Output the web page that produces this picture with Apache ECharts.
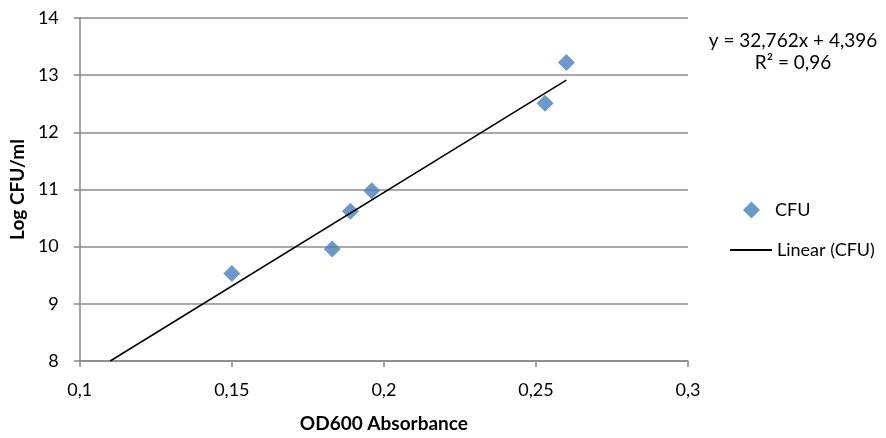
<!DOCTYPE html>
<html>
<head>
<meta charset="utf-8">
<script src="https://cdn.jsdelivr.net/npm/echarts@6/dist/echarts.min.js"></script>
<style>html,body{margin:0;padding:0;background:#fff}#c{width:886px;height:438px}</style>
</head>
<body>
<div id="c"></div>
<script>
var odValues = [0.15, 0.183, 0.189, 0.196, 0.253, 0.26];
var logCfuValues = [9.53, 9.96, 10.62, 10.98, 12.51, 13.22];
var trendX = [0.11, 0.26];
var trendY = [8.0, 12.914];
var xTicks = [0.1, 0.15, 0.2, 0.25, 0.3];
var yTicks = [8, 9, 10, 11, 12, 13, 14];
var equationText = 'y = 32,762x + 4,396';
var r2Text = 'R² = 0,96';

var FONT = 'Lato, "Open Sans", sans-serif';
var chart = echarts.init(document.getElementById('c'), null, {renderer: 'canvas'});
var fmt = function (v) { return String(v).replace('.', ','); };
chart.setOption({
  animation: false,
  backgroundColor: '#fff',
  grid: {left: 78, right: 198, top: 18, bottom: 73, containLabel: false},
  xAxis: {
    type: 'value', min: xTicks[0], max: xTicks[xTicks.length - 1], interval: 0.05,
    name: 'OD600 Absorbance', nameLocation: 'middle', nameGap: 53,
    nameTextStyle: {fontFamily: FONT, fontWeight: 'bold', fontSize: 19, color: '#000'},
    axisLine: {show: true, lineStyle: {color: '#868686', width: 1.5}},
    axisTick: {show: true, length: 6, lineStyle: {color: '#868686', width: 1.5}},
    axisLabel: {formatter: fmt, fontFamily: FONT, fontSize: 18, color: '#000', margin: 20},
    splitLine: {show: false}
  },
  yAxis: {
    type: 'value', min: yTicks[0], max: yTicks[yTicks.length - 1], interval: 1,
    name: 'Log CFU/ml', nameLocation: 'middle', nameGap: 48, nameRotate: 90,
    nameTextStyle: {fontFamily: FONT, fontWeight: 'bold', fontSize: 19, color: '#000'},
    axisLine: {show: true, lineStyle: {color: '#868686', width: 1.5}},
    axisTick: {show: true, length: 6, lineStyle: {color: '#868686', width: 1.5}},
    axisLabel: {formatter: fmt, fontFamily: FONT, fontSize: 18, color: '#000', margin: 21},
    splitLine: {show: true, lineStyle: {color: '#8c8c8c', width: 1.5}}
  },
  legend: [{
    data: [{name: 'CFU', icon: 'diamond'}],
    left: 738, top: 196, itemWidth: 17, itemHeight: 17, itemGap: 10,
    textStyle: {fontFamily: FONT, fontSize: 18, color: '#000', padding: [0, 0, 0, 10]}
  }, {
    data: [{name: 'Linear (CFU)', icon: 'rect'}],
    left: 725, top: 236, itemWidth: 42, itemHeight: 2, itemGap: 2,
    textStyle: {fontFamily: FONT, fontSize: 18, color: '#000', padding: [0, 0, 0, 0]}
  }],
  graphic: [{
    type: 'text', x: 793, y: 41,
    style: {text: equationText, font: '19px ' + FONT, fill: '#000', align: 'center', verticalAlign: 'middle'}
  }, {
    type: 'text', x: 793, y: 63,
    style: {text: r2Text, font: '19px ' + FONT, fill: '#000', align: 'center', verticalAlign: 'middle'}
  }],
  series: [{
    name: 'CFU', type: 'scatter', symbol: 'diamond', symbolSize: 17,
    itemStyle: {color: '#4a7ebb'},
    data: odValues.map(function (x, i) { return [x, logCfuValues[i]]; }),
    z: 3
  }, {
    name: 'Linear (CFU)', type: 'line', symbol: 'none',
    lineStyle: {color: '#000', width: 1.5},
    itemStyle: {color: '#000'},
    data: trendX.map(function (x, i) { return [x, trendY[i]]; }),
    z: 4
  }]
});
</script>
</body>
</html>
